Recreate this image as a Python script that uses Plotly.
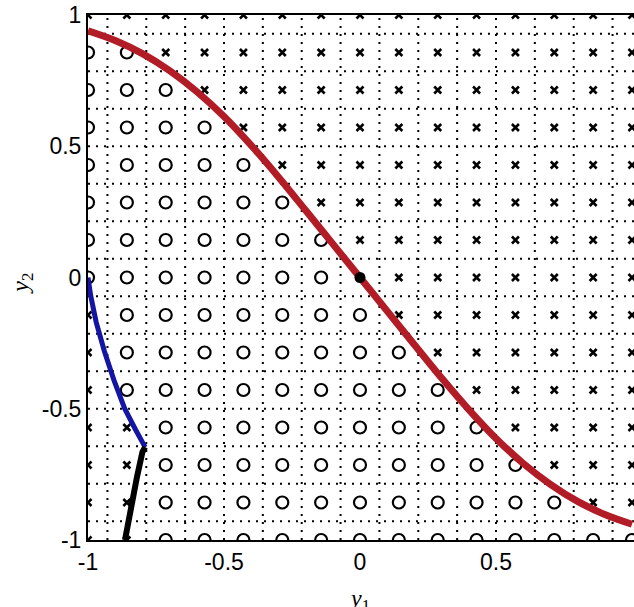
import plotly.graph_objects as go

# ---- data ----
grid_vals = [-1, -6/7, -5/7, -4/7, -3/7, -2/7, -1/7, 0, 1/7, 2/7, 3/7, 4/7, 5/7, 6/7, 1]
# rows from top (y = 1) to bottom (y = -1); 'o' = circle, 'x' = cross
marker_rows = [
    "xxxxxxxxxxxxxxx",
    "ooxxxxxxxxxxxxx",
    "oooxxxxxxxxxxxx",
    "ooooxxxxxxxxxxx",
    "oooooxxxxxxxxxx",
    "ooooooxxxxxxxxx",
    "oooooooxxxxxxxx",
    "oooooooxxxxxxxx",
    "xoooooooxxxxxxx",
    "xooooooooxxxxxx",
    "xoooooooooxxxxx",
    "xxoooooooooxxxx",
    "xxooooooooooxxx",
    "xxoooooooooooxx",
    "xxooooooooooooo",
]
grid_lines = [-13/14, -11/14, -9/14, -7/14, -5/14, -3/14, -1/14,
              1/14, 3/14, 5/14, 7/14, 9/14, 11/14, 13/14]

red_x = [-1, -0.9, -0.8, -0.7, -0.6, -0.5, -0.4, -0.3, -0.2, -0.1, 0,
         0.1, 0.2, 0.3, 0.4, 0.5, 0.6, 0.7, 0.8, 0.9, 1]
red_y = [0.94, 0.903, 0.853, 0.788, 0.708, 0.613, 0.503, 0.383, 0.256, 0.128, 0,
         -0.128, -0.256, -0.383, -0.503, -0.613, -0.708, -0.788, -0.853, -0.903, -0.94]

blue_x = [-1, -0.99, -0.97, -0.94, -0.905, -0.865, -0.825, -0.79]
blue_y = [0, -0.07, -0.17, -0.28, -0.39, -0.50, -0.58, -0.646]

black_x = [-0.79, -0.80, -0.82, -0.838, -0.853, -0.864]
black_y = [-0.646, -0.665, -0.76, -0.848, -0.924, -1.0]

dot_x = [0]
dot_y = [0]

x_ticks = [-1, -0.5, 0, 0.5, 1]
x_ticktext = ["-1", "-0.5", "0", "0.5", "1"]
y_ticks = [-1, -0.5, 0, 0.5, 1]
y_ticktext = ["-1", "-0.5", "0", "0.5", "1"]

# ---- build marker sets ----
ox, oy, xx, xy = [], [], [], []
n = len(grid_vals)
for r, row in enumerate(marker_rows):
    yv = grid_vals[n - 1 - r]
    for c, ch in enumerate(row):
        if ch == "o":
            ox.append(grid_vals[c]); oy.append(yv)
        else:
            xx.append(grid_vals[c]); xy.append(yv)

fig = go.Figure()
fig.add_trace(go.Scatter(x=ox, y=oy, mode="markers", cliponaxis=True,
                         marker=dict(symbol="circle-open", size=12, color="black",
                                     line=dict(width=2.2, color="black"))))
fig.add_trace(go.Scatter(x=xx, y=xy, mode="markers", cliponaxis=True,
                         marker=dict(symbol="x-thin-open", size=7, color="black",
                                     line=dict(width=2.6, color="black"))))
fig.add_trace(go.Scatter(x=red_x, y=red_y, mode="lines", line_shape="spline",
                         line=dict(color="rgb(178,28,38)", width=7)))
fig.add_trace(go.Scatter(x=blue_x, y=blue_y, mode="lines",
                         line=dict(color="rgb(20,20,165)", width=5)))
fig.add_trace(go.Scatter(x=black_x, y=black_y, mode="lines",
                         line=dict(color="black", width=6)))
fig.add_trace(go.Scatter(x=dot_x, y=dot_y, mode="markers",
                         marker=dict(symbol="circle", size=11, color="black")))

shapes = []
for v in grid_lines:
    shapes.append(dict(type="line", xref="x", yref="paper", x0=v, x1=v, y0=0, y1=1,
                       layer="below", line=dict(color="black", width=2, dash="2px,6px")))
    shapes.append(dict(type="line", xref="paper", yref="y", x0=0, x1=1, y0=v, y1=v,
                       layer="below", line=dict(color="black", width=2, dash="2px,6px")))

tickfont = dict(family="Liberation Sans", size=23, color="black")
fig.update_layout(
    width=634, height=607,
    margin=dict(l=88, r=0, t=15, b=67),
    plot_bgcolor="white", paper_bgcolor="white",
    showlegend=False, shapes=shapes,
    xaxis=dict(range=[-1, 1.0074], tickvals=x_ticks, ticktext=x_ticktext,
               showgrid=False, zeroline=False, showline=True, linecolor="black",
               linewidth=2, mirror=True, ticks="", tickfont=tickfont),
    yaxis=dict(range=[-1, 1], tickvals=y_ticks, ticktext=y_ticktext,
               showgrid=False, zeroline=False, showline=True, linecolor="black",
               linewidth=2, mirror=False, ticks="", tickfont=tickfont),
    annotations=[
        dict(text="<i>y</i><sub>2</sub>", xref="paper", yref="paper",
             x=-0.121, y=0.49, xanchor="center", yanchor="middle",
             textangle=-90, showarrow=False,
             font=dict(family="Liberation Serif", size=24, color="black")),
        dict(text="<i>y</i><sub>1</sub>", xref="x", yref="paper",
             x=0, y=-0.082, xanchor="center", yanchor="top", showarrow=False,
             font=dict(family="Liberation Serif", size=24, color="black")),
    ],
)

fig.write_html("out.html")
